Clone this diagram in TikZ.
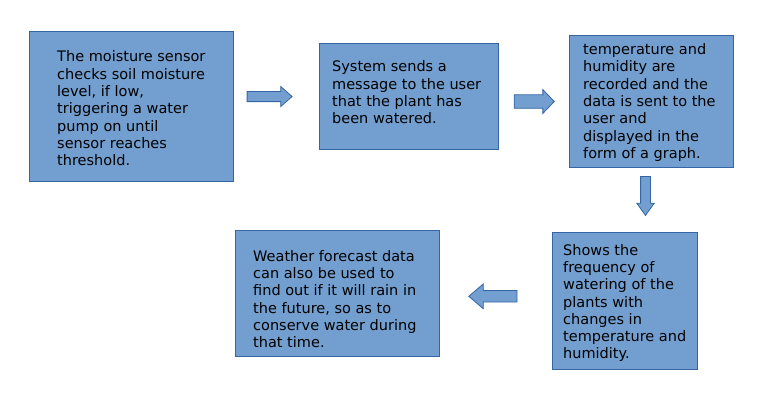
\documentclass[tikz,border=0pt]{standalone}
\usepackage{fontspec}
\setmainfont{DejaVu Sans}
\usetikzlibrary{positioning,shapes.arrows}

\definecolor{boxblue}{HTML}{729FCF}
\definecolor{edgeblue}{HTML}{3465A4}

\tikzset{
  stepbox/.style={draw=edgeblue, fill=boxblue, line width=1pt, inner sep=0pt, outer sep=0pt},
  steptext/.style={anchor=west, align=left, inner sep=0pt, font={\fontsize{14.5}{17.3}\selectfont}},
  blockarrow/.style={single arrow, draw=edgeblue, fill=boxblue, line width=0.8pt, outer sep=0pt}
}

\begin{document}
\begin{tikzpicture}[x=1pt, y=-1pt]
    \useasboundingbox (0,0) rectangle (760,407);

    % boxes
    \node[stepbox, minimum width=204, minimum height=150] (b1) at (131,106) {};
    \node[stepbox, minimum width=179, minimum height=106] (b2) at (408.5,96) {};
    \node[stepbox, minimum width=164, minimum height=132] (b3) at (651,101) {};
    \node[stepbox, minimum width=145, minimum height=137] (b5) at (624.5,300.5) {};
    \node[stepbox, minimum width=204, minimum height=126] (b4) at (337,293) {};

    % texts
    \node[steptext] (t1) at (57,108.3) {The moisture sensor\\checks soil moisture\\level, if low,\\triggering a water\\pump on until\\sensor reaches\\threshold.};
    \node[steptext] (t2) at (332,92.5) {System sends a\\message to the user\\that the plant has\\been watered.};
    \node[steptext] (t3) at (583,102.5) {temperature and\\humidity are\\recorded and the\\data is sent to the\\user and\\displayed in the\\form of a graph.};
    \node[steptext] (t5) at (563,303) {Shows the\\frequency of\\watering of the\\plants with\\changes in\\temperature and\\humidity.};
    \node[steptext] (t4) at (253,299) {Weather forecast data\\can also be used to\\find out if it will rain in\\the future, so as to\\conserve water during\\that time.};

    % arrows
    \node[blockarrow, inner sep=4.7, minimum height=45, minimum width=19.3, single arrow head extend=4.95, single arrow tip angle=82.6] (a1) at (266.7,96.5) {};
    \node[blockarrow, inner sep=6.35, minimum height=40, minimum width=23, single arrow head extend=5.15, single arrow tip angle=92.6] (a2) at (531,101.5) {};
    \node[blockarrow, inner sep=4.5, minimum height=39, minimum width=16.7, single arrow head extend=3.85, single arrow tip angle=71, shape border rotate=270] (a3) at (645.5,192.5) {};
    \node[blockarrow, inner sep=5.35, minimum height=48.3, minimum width=24, single arrow head extend=6.65, single arrow tip angle=81, shape border rotate=180] (a4) at (496.3,296.3) {};
\end{tikzpicture}
\end{document}
